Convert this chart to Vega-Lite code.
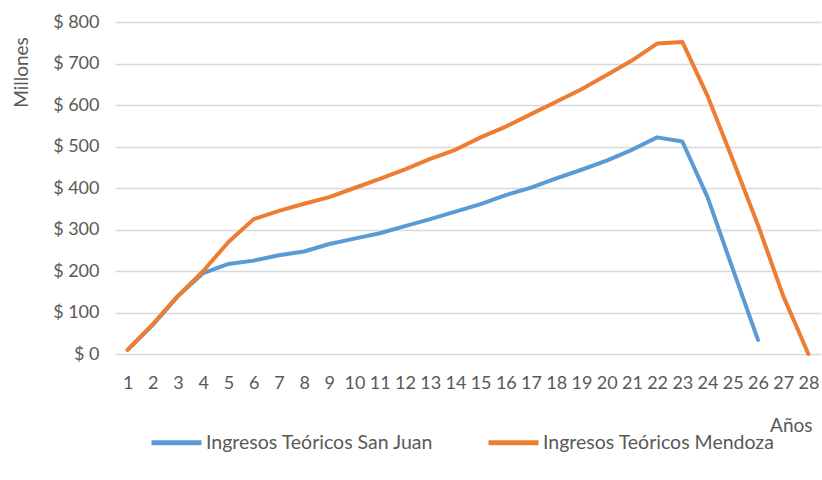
{
  "$schema": "https://vega.github.io/schema/vega-lite/v6.json",
  "autosize": {"type": "none"},
  "width": 706,
  "height": 332,
  "padding": {"left": 115, "top": 22, "right": 1, "bottom": 126},
  "background": "white",
  "config": {
    "font": "Lato",
    "view": {"stroke": null},
    "axis": {"labelFont": "Lato", "titleFont": "Lato", "labelColor": "#595959", "titleColor": "#595959", "labelFontSize": 18, "titleFontSize": 19, "titleFontWeight": "normal"}
  },
  "data": {"values": [
    {"anio": 1, "serie": "Ingresos Teóricos San Juan", "valor": 10},
    {"anio": 2, "serie": "Ingresos Teóricos San Juan", "valor": 70},
    {"anio": 3, "serie": "Ingresos Teóricos San Juan", "valor": 140},
    {"anio": 4, "serie": "Ingresos Teóricos San Juan", "valor": 195},
    {"anio": 5, "serie": "Ingresos Teóricos San Juan", "valor": 217},
    {"anio": 6, "serie": "Ingresos Teóricos San Juan", "valor": 225},
    {"anio": 7, "serie": "Ingresos Teóricos San Juan", "valor": 238},
    {"anio": 8, "serie": "Ingresos Teóricos San Juan", "valor": 247},
    {"anio": 9, "serie": "Ingresos Teóricos San Juan", "valor": 265},
    {"anio": 10, "serie": "Ingresos Teóricos San Juan", "valor": 278},
    {"anio": 11, "serie": "Ingresos Teóricos San Juan", "valor": 291},
    {"anio": 12, "serie": "Ingresos Teóricos San Juan", "valor": 308},
    {"anio": 13, "serie": "Ingresos Teóricos San Juan", "valor": 325},
    {"anio": 14, "serie": "Ingresos Teóricos San Juan", "valor": 343},
    {"anio": 15, "serie": "Ingresos Teóricos San Juan", "valor": 361},
    {"anio": 16, "serie": "Ingresos Teóricos San Juan", "valor": 383},
    {"anio": 17, "serie": "Ingresos Teóricos San Juan", "valor": 401},
    {"anio": 18, "serie": "Ingresos Teóricos San Juan", "valor": 423},
    {"anio": 19, "serie": "Ingresos Teóricos San Juan", "valor": 444},
    {"anio": 20, "serie": "Ingresos Teóricos San Juan", "valor": 466},
    {"anio": 21, "serie": "Ingresos Teóricos San Juan", "valor": 492},
    {"anio": 22, "serie": "Ingresos Teóricos San Juan", "valor": 522},
    {"anio": 23, "serie": "Ingresos Teóricos San Juan", "valor": 512},
    {"anio": 24, "serie": "Ingresos Teóricos San Juan", "valor": 378},
    {"anio": 25, "serie": "Ingresos Teóricos San Juan", "valor": 205},
    {"anio": 26, "serie": "Ingresos Teóricos San Juan", "valor": 34},
    {"anio": 1, "serie": "Ingresos Teóricos Mendoza", "valor": 10},
    {"anio": 2, "serie": "Ingresos Teóricos Mendoza", "valor": 72},
    {"anio": 3, "serie": "Ingresos Teóricos Mendoza", "valor": 140},
    {"anio": 4, "serie": "Ingresos Teóricos Mendoza", "valor": 200},
    {"anio": 5, "serie": "Ingresos Teóricos Mendoza", "valor": 270},
    {"anio": 6, "serie": "Ingresos Teóricos Mendoza", "valor": 325},
    {"anio": 7, "serie": "Ingresos Teóricos Mendoza", "valor": 345},
    {"anio": 8, "serie": "Ingresos Teóricos Mendoza", "valor": 362},
    {"anio": 9, "serie": "Ingresos Teóricos Mendoza", "valor": 378},
    {"anio": 10, "serie": "Ingresos Teóricos Mendoza", "valor": 400},
    {"anio": 11, "serie": "Ingresos Teóricos Mendoza", "valor": 422},
    {"anio": 12, "serie": "Ingresos Teóricos Mendoza", "valor": 445},
    {"anio": 13, "serie": "Ingresos Teóricos Mendoza", "valor": 470},
    {"anio": 14, "serie": "Ingresos Teóricos Mendoza", "valor": 492},
    {"anio": 15, "serie": "Ingresos Teóricos Mendoza", "valor": 522},
    {"anio": 16, "serie": "Ingresos Teóricos Mendoza", "valor": 548},
    {"anio": 17, "serie": "Ingresos Teóricos Mendoza", "valor": 578},
    {"anio": 18, "serie": "Ingresos Teóricos Mendoza", "valor": 608},
    {"anio": 19, "serie": "Ingresos Teóricos Mendoza", "valor": 638},
    {"anio": 20, "serie": "Ingresos Teóricos Mendoza", "valor": 672},
    {"anio": 21, "serie": "Ingresos Teóricos Mendoza", "valor": 707},
    {"anio": 22, "serie": "Ingresos Teóricos Mendoza", "valor": 748},
    {"anio": 23, "serie": "Ingresos Teóricos Mendoza", "valor": 752},
    {"anio": 24, "serie": "Ingresos Teóricos Mendoza", "valor": 622},
    {"anio": 25, "serie": "Ingresos Teóricos Mendoza", "valor": 468},
    {"anio": 26, "serie": "Ingresos Teóricos Mendoza", "valor": 311},
    {"anio": 27, "serie": "Ingresos Teóricos Mendoza", "valor": 140},
    {"anio": 28, "serie": "Ingresos Teóricos Mendoza", "valor": 0}
  ]},
  "mark": {"type": "line", "strokeWidth": 4, "strokeCap": "round", "strokeJoin": "round"},
  "encoding": {
    "x": {
      "field": "anio", "type": "ordinal",
      "scale": {"type": "point", "padding": 0.5},
      "axis": {
        "title": "Años", "labelAngle": 0, "domain": false, "ticks": false, "grid": false,
        "labelPadding": 20, "titleX": 697, "titleY": 71, "titleAlign": "right", "titleBaseline": "middle"
      }
    },
    "y": {
      "field": "valor", "type": "quantitative",
      "scale": {"domain": [0, 800], "nice": false},
      "axis": {
        "title": "Millones", "values": [0, 100, 200, 300, 400, 500, 600, 700, 800],
        "labelExpr": "'$ ' + datum.value", "domain": false, "ticks": false,
        "grid": true, "gridColor": "#D9D9D9", "gridWidth": 1.3, "labelPadding": 16,
        "titleX": -94, "titleY": 50, "titleAngle": -90, "titleAlign": "center", "titleBaseline": "middle"
      }
    },
    "color": {
      "field": "serie", "type": "nominal",
      "scale": {"domain": ["Ingresos Teóricos San Juan", "Ingresos Teóricos Mendoza"], "range": ["#5B9BD5", "#ED7D31"]},
      "sort": ["Ingresos Teóricos San Juan", "Ingresos Teóricos Mendoza"],
      "legend": {
        "title": null, "orient": "none", "legendX": 34, "legendY": 393, "direction": "horizontal",
        "symbolType": "stroke", "symbolSize": 2500, "symbolStrokeWidth": 5,
        "labelFont": "Lato", "labelFontSize": 19.5, "labelColor": "#595959", "labelOffset": 2,
        "columnPadding": 44, "labelLimit": 400
      }
    }
  }
}
